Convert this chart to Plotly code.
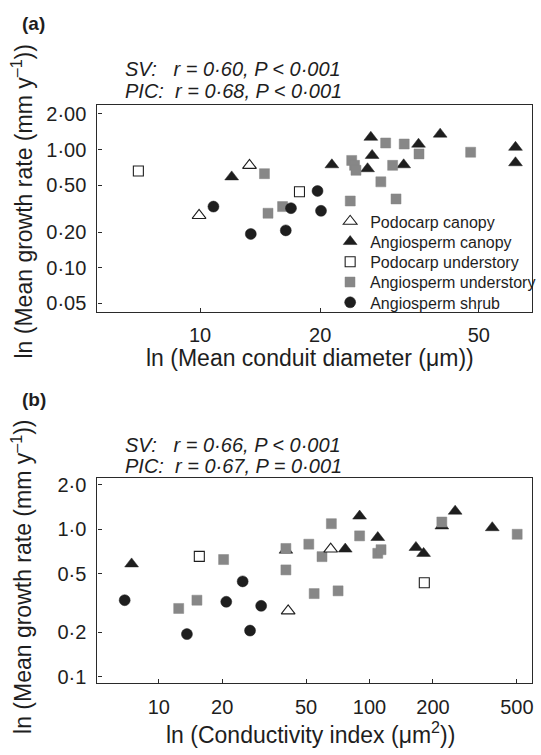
import plotly.graph_objects as go

W, H = 541, 755

# ---------------- data ----------------
groups = ["Podocarp canopy", "Angiosperm canopy", "Podocarp understory",
          "Angiosperm understory", "Angiosperm shrub"]

# Panel (a): mean conduit diameter (um) vs mean growth rate (mm/y)
a_pc_x = [13.3, 9.94]
a_pc_y = [0.735, 0.277]
a_ac_x = [12.0, 21.4, 26.8, 27.0, 26.3, 35.3, 32.4, 40.0, 61.8, 61.8]
a_ac_y = [0.587, 0.743, 1.27, 0.891, 0.688, 1.11, 0.743, 1.35, 1.045, 0.773]
a_pu_x = [7.0, 17.75]
a_pu_y = [0.659, 0.44]
a_au_x = [14.5, 14.8, 16.1, 24.0, 24.4, 24.6, 29.2, 32.5, 35.4, 30.4, 28.4, 23.8, 31.0, 47.7]
a_au_y = [0.625, 0.289, 0.329, 0.809, 0.735, 0.667, 1.136, 1.114, 0.919, 0.735, 0.533, 0.367, 0.382, 0.949]
a_as_x = [10.8, 13.4, 16.4, 16.9, 19.7, 20.1]
a_as_y = [0.329, 0.193, 0.207, 0.319, 0.446, 0.303]

# Panel (b): conductivity index (um^2) vs mean growth rate (mm/y)
b_pc_x = [65.4, 41.1]
b_pc_y = [0.735, 0.28]
b_ac_x = [7.43, 89.7, 76.7, 109.4, 166.0, 180.5, 254.8, 382.2, 220.3, 40.1]
b_ac_y = [0.583, 1.23, 0.735, 0.88, 0.754, 0.687, 1.328, 1.026, 1.054, 0.723]
b_pu_x = [15.57, 181.9]
b_pu_y = [0.656, 0.435]
b_au_x = [20.3, 40.1, 40.1, 51.5, 59.5, 65.9, 89.7, 109.4, 113.4, 220.3, 501.8, 12.43, 15.17, 54.6, 70.9]
b_au_y = [0.624, 0.742, 0.531, 0.793, 0.653, 1.092, 0.903, 0.688, 0.728, 1.121, 0.926, 0.291, 0.331, 0.367, 0.383]
b_as_x = [6.89, 13.6, 20.9, 25.0, 30.6, 27.1]
b_as_y = [0.331, 0.195, 0.323, 0.444, 0.303, 0.206]

a_xticks = [10, 20, 50]
a_xticktext = ["10", "20", "50"]
a_yticks = [2, 1, 0.5, 0.2, 0.1, 0.05]
a_yticktext = ["2·00", "1·00", "0·50", "0·20", "0·10", "0·05"]
b_xticks = [10, 20, 50, 100, 200, 500]
b_xticktext = ["10", "20", "50", "100", "200", "500"]
b_yticks = [2, 1, 0.5, 0.2, 0.1]
b_yticktext = ["2·0", "1·0", "0·5", "0·2", "0·1"]

# ---------------- styling ----------------
FONT = "Liberation Sans, Arial, sans-serif"
INK = "#1e1e1e"
GRAY = "#878787"

styles = {
    "Podocarp canopy": dict(symbol="triangle-up", size=12, color="white",
                            line=dict(color=INK, width=1.1)),
    "Angiosperm canopy": dict(symbol="triangle-up", size=12, color=INK,
                              line=dict(color=INK, width=0.5)),
    "Podocarp understory": dict(symbol="square", size=10, color="white",
                                line=dict(color=INK, width=1.1)),
    "Angiosperm understory": dict(symbol="square", size=10, color=GRAY,
                                  line=dict(color=GRAY, width=0.5)),
    "Angiosperm shrub": dict(symbol="circle", size=11, color=INK,
                             line=dict(color=INK, width=0.5)),
}
legend_ids = {g: ("legend" if i == 0 else "legend%d" % (i + 1)) for i, g in enumerate(groups)}
legend_rows = [220, 240.5, 261, 281.5, 302]   # pixel row centres of the legend entries
draw_order = ["Angiosperm canopy", "Angiosperm understory", "Podocarp canopy",
              "Podocarp understory", "Angiosperm shrub"]

data_a = {
    "Podocarp canopy": (a_pc_x, a_pc_y),
    "Angiosperm canopy": (a_ac_x, a_ac_y),
    "Podocarp understory": (a_pu_x, a_pu_y),
    "Angiosperm understory": (a_au_x, a_au_y),
    "Angiosperm shrub": (a_as_x, a_as_y),
}
data_b = {
    "Podocarp canopy": (b_pc_x, b_pc_y),
    "Angiosperm canopy": (b_ac_x, b_ac_y),
    "Podocarp understory": (b_pu_x, b_pu_y),
    "Angiosperm understory": (b_au_x, b_au_y),
    "Angiosperm shrub": (b_as_x, b_as_y),
}


def px(x):
    return x / W


def py(y):
    return 1 - y / H


fig = go.Figure()
for g in draw_order:
    x, y = data_a[g]
    fig.add_trace(go.Scatter(x=x, y=y, mode="markers", name=g, marker=styles[g],
                             xaxis="x", yaxis="y", legend=legend_ids[g],
                             showlegend=True))
for g in draw_order:
    x, y = data_b[g]
    fig.add_trace(go.Scatter(x=x, y=y, mode="markers", name=g, marker=styles[g],
                             xaxis="x2", yaxis="y2", showlegend=False))

axis_common = dict(type="log", showgrid=False, zeroline=False, showline=True,
                   linecolor="#2a2a2a", linewidth=1.3, mirror=True,
                   ticks="inside", ticklen=4, tickwidth=1, tickcolor="#2a2a2a",
                   tickfont=dict(family=FONT, size=20, color=INK))

left, right = 98, 535
layout = dict(
    width=W, height=H,
    margin=dict(l=0, r=0, t=0, b=0),
    paper_bgcolor="white", plot_bgcolor="white",
    font=dict(family=FONT, color=INK),
    xaxis=dict(axis_common, domain=[px(left), px(right)], range=[0.7425, 1.8325],
               tickvals=a_xticks, ticktext=a_xticktext, anchor="y",
               ticklabelstandoff=5),
    yaxis=dict(axis_common, domain=[py(311.7), py(102.7)], range=[-1.3746, 0.3729],
               tickvals=a_yticks, ticktext=a_yticktext, anchor="x",
               ticklabelstandoff=6),
    xaxis2=dict(axis_common, domain=[px(left), px(right)], range=[0.709, 2.771],
                tickvals=b_xticks, ticktext=b_xticktext, anchor="y2",
                ticklabelstandoff=6),
    yaxis2=dict(axis_common, domain=[py(687.3), py(480)], range=[-1.042, 0.346],
                tickvals=b_yticks, ticktext=b_yticktext, anchor="x2",
                ticklabelstandoff=6),
)
for i, g in enumerate(groups):
    layout[legend_ids[g]] = dict(x=px(332), y=py(legend_rows[i]), xanchor="left",
                                 yanchor="middle", bgcolor="rgba(0,0,0,0)",
                                 borderwidth=0,
                                 font=dict(family=FONT, size=16, color=INK),
                                 tracegroupgap=0, itemwidth=30)
fig.update_layout(**layout)

ann = []


def add_text(text, x, y, size, xanchor="center", **kw):
    d = dict(text=text, x=px(x), y=py(y), xref="paper", yref="paper",
             xanchor=xanchor, yanchor="middle",
             showarrow=False, font=dict(family=FONT, size=size, color=INK))
    d.update(kw)
    ann.append(d)


nb = "\u00a0"
add_text("<b>(a)</b>", 34, 20, 19)
add_text("<b>(b)</b>", 34, 400, 19)
add_text("<i>SV:" + nb * 3 + "r = 0·60, P &lt; 0·001</i>", 124, 66, 20, xanchor="left")
add_text("<i>PIC:" + nb * 2 + "r = 0·68, P &lt; 0·001</i>", 124, 88, 20, xanchor="left")
add_text("<i>SV:" + nb * 3 + "r = 0·66, P &lt; 0·001</i>", 124, 446, 20, xanchor="left")
add_text("<i>PIC:" + nb * 2 + "r = 0·67, P = 0·001</i>", 124, 468, 20, xanchor="left")
add_text("ln (Mean growth rate (mm y<sup>–1</sup>))", 22, 200, 23, textangle=-90)
add_text("ln (Mean growth rate (mm y<sup>–1</sup>))", 22, 580, 23, textangle=-90)
add_text("ln (Mean conduit diameter (μm))", 312, 358, 23)
add_text("ln (Conductivity index (μm<sup>2</sup>))", 312, 738, 23)
fig.update_layout(annotations=ann)

fig.write_html("out.html")
